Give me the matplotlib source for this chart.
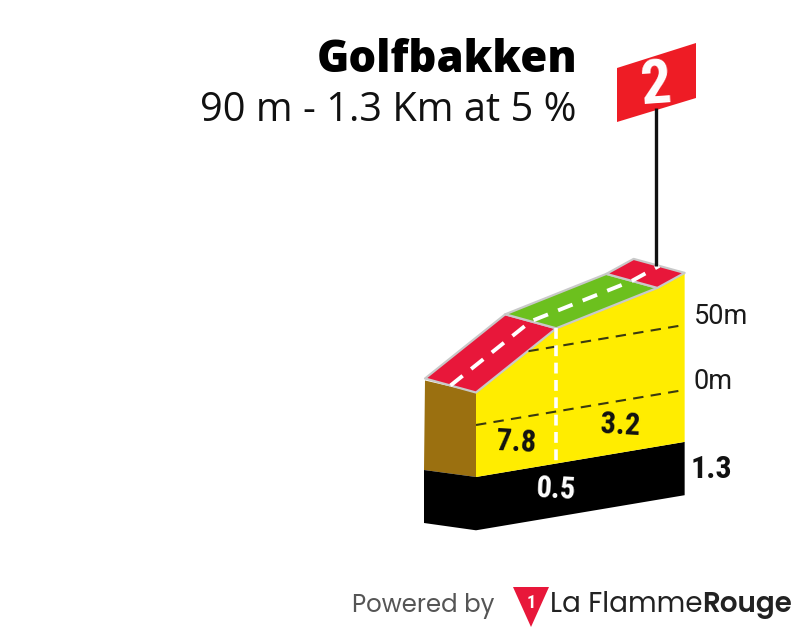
import matplotlib
matplotlib.use("Agg")
import matplotlib.pyplot as plt
from matplotlib.patches import Polygon

# climb data
title = "Golfbakken"
subtitle = "90 m - 1.3 Km at 5 %"
climb_number = "2"
km = [0, 0.5, 1.13, 1.3]
alt = [25, 64, 82, 90]
road_colors = ["#e8173a", "#6cc01e", "#e8173a"]
grad_km = [0.25, 0.9]
grad_labels = ["7.8", "3.2"]
mark_km = 0.5
mark_label = "0.5"
end_label = "1.3"
grid_alts = [0, 50]
grid_labels = ["0m", "50m"]

# drawing scale, in pixels
X0, PX_KM = 476, 160.5
Y0, PX_M, SKEW = 425, 1.3, 27
BASE, FLOOR = -40, -81
DX, DY = -51, -14
YELLOW, BROWN, GREY = "#ffed00", "#9b7010", "#c9c9c9"
NARROW = ["Roboto Condensed", "Liberation Sans"]
FOOT = ["Poppins", "Lato"]


def px(k, a):
    return X0 + PX_KM * k, Y0 - PX_M * a - SKEW * k


fig = plt.figure(figsize=(8, 6.35), dpi=100)
ax = fig.add_axes([0, 0, 1, 1])
ax.set_xlim(0, 800)
ax.set_ylim(635, 0)
ax.axis("off")

top = [px(k, a) for k, a in zip(km, alt)]
end = km[-1]

# side and black band
ax.add_patch(Polygon([(top[0][0] + DX, top[0][1] + DY + 2), top[0], px(0, BASE), (424, 470)], color=BROWN, lw=0))
ax.add_patch(Polygon([px(0, BASE), px(end, BASE), px(end, FLOOR), px(0, FLOOR)], color="black", lw=0))
ax.add_patch(Polygon([(424, 470), px(0, BASE), px(0, FLOOR), (424, 523)], color="black", lw=0))

# yellow front
face = Polygon(top + [px(end, BASE), px(0, BASE)], color=YELLOW, lw=0)
ax.add_patch(face)

# altitude lines
for a, lab in zip(grid_alts, grid_labels):
    p0, p1 = px(0, a), px(end, a)
    line, = ax.plot([p0[0], p1[0]], [p0[1], p1[1]], color="#3a3a10", lw=1.5, ls=(0, (5, 3.5)))
    line.set_clip_path(face)
    ax.text(p1[0] + 9, p1[1] - 8, lab, fontsize=19.5, family="Roboto", ha="left", va="center", color="#1a1a1a")

# white marker at the km split
pm = px(mark_km, alt[1])
pb = px(mark_km, BASE)
ax.plot([pm[0], pb[0]], [pm[1], pb[1] - 1], color="white", lw=2.6, ls=(0, (3, 1.8)))

# road surface
for i, c in enumerate(road_colors):
    a, b = top[i], top[i + 1]
    quad = [a, b, (b[0] + DX, b[1] + DY), (a[0] + DX, a[1] + DY)]
    ax.add_patch(Polygon(quad, facecolor=c, edgecolor=GREY, lw=1.6, joinstyle="round"))
xs = [p[0] + DX / 2 for p in top]
ys = [p[1] + DY / 2 for p in top]
ax.plot(xs, ys, color="white", lw=2.8, ls=(0, (4, 2.8)))

# gradient labels
narrow = dict(family=NARROW, fontweight="bold", ha="center", va="center")
for k, lab in zip(grad_km, grad_labels):
    x, y = px(k, -18.5)
    ax.text(x, y, lab, fontsize=22, color="#111111", rotation=-3, **narrow)
x, y = px(mark_km, -60)
ax.text(x, y, mark_label, fontsize=22, color="white", rotation=-3, **narrow)
x, y = px(end, -40)
ax.text(x + 27, y + 27, end_label, fontsize=23, color="#111111", **narrow)

# flag
ax.plot([656, 656], [108, 266], color="#111111", lw=2.4, solid_capstyle="butt")
ax.add_patch(Polygon([(617, 68), (696, 43), (696, 98), (617, 122)], color="#ee1c25", lw=0))
ax.text(656, 86, climb_number, fontsize=44, color="white", rotation=4, **narrow)

# title
ax.text(577, 61, title, fontsize=31.4, family="Open Sans", fontweight="black", ha="right", va="center", color="black")
ax.text(577, 111, subtitle, fontsize=28.6, family="Open Sans", ha="right", va="center", color="#111111")

# footer
ax.text(494, 606, "Powered by", fontsize=17.6, family=FOOT, ha="right", va="center", color="#555555")
ax.add_patch(Polygon([(513, 587), (549, 587), (531, 627)], color="#e8173a", lw=0))
ax.text(531, 603, "1", fontsize=13, color="white", **narrow)
ax.text(702, 605, "La Flamme", fontsize=20, family=FOOT, ha="right", va="center", color="#222222")
ax.text(792, 605, "Rouge", fontsize=20, family=FOOT, fontweight="semibold", ha="right", va="center", color="#222222")

fig.savefig("out.png", dpi=100)
